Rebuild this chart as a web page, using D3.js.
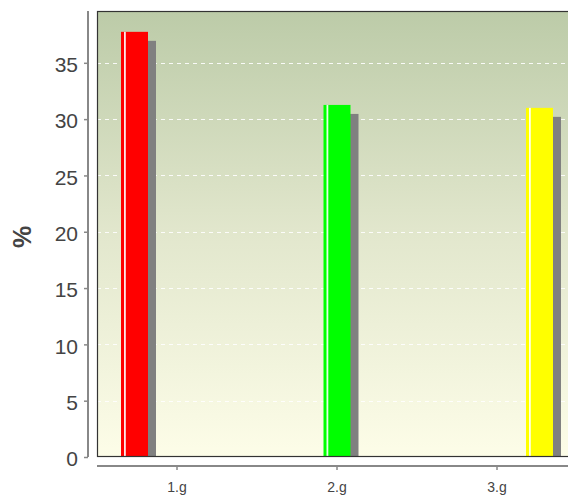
<!DOCTYPE html>
<html>
<head>
<meta charset="utf-8">
<script src="https://cdn.jsdelivr.net/npm/d3@7/dist/d3.min.js"></script>
<style>
  html, body { margin: 0; padding: 0; background: #ffffff; }
  svg { display: block; font-family: "Liberation Sans", Arial, sans-serif; }
</style>
</head>
<body>
<svg id="chart" width="568" height="499"></svg>
<script>
const categories = ["1.g", "2.g", "3.g"];
const values = [37.75, 31.26, 31.0];
const barColors = ["#ff0000", "#00ff00", "#ffff00"];
const yTicks = [0, 5, 10, 15, 20, 25, 30, 35];
const yTitle = "%";

const W = 568, H = 499;
const panel = { left: 97, top: 11, right: 577, bottom: 457 };

const svg = d3.select("#chart");

const defs = svg.append("defs");
const grad = defs.append("linearGradient")
  .attr("id", "bg").attr("x1", 0).attr("y1", 0).attr("x2", 0).attr("y2", 1);
grad.append("stop").attr("offset", "0%").attr("stop-color", "#bccba8");
grad.append("stop").attr("offset", "50%").attr("stop-color", "#e2e7cd");
grad.append("stop").attr("offset", "100%").attr("stop-color", "#fdfde8");

defs.append("clipPath").attr("id", "clip")
  .append("rect")
  .attr("x", panel.left).attr("y", panel.top)
  .attr("width", panel.right - panel.left).attr("height", panel.bottom - panel.top);

const y = d3.scaleLinear().domain([0, 39.6]).range([panel.bottom, panel.top]);
const xAxisScale = d3.scaleBand().domain(categories).range([panel.left, panel.right]).padding(0);
const xBar = d3.scalePoint().domain(categories).range([134.5, 539.5]);

const barW = 27, shadowDx = 8, shadowDy = 9;

svg.append("rect")
  .attr("x", panel.left).attr("y", panel.top)
  .attr("width", panel.right - panel.left).attr("height", panel.bottom - panel.top)
  .attr("fill", "url(#bg)");

svg.append("g")
  .selectAll("line")
  .data(yTicks.filter(d => d > 0))
  .join("line")
  .attr("x1", panel.left).attr("x2", panel.right)
  .attr("y1", d => Math.round(y(d)) + 0.5).attr("y2", d => Math.round(y(d)) + 0.5)
  .attr("stroke", "#ffffff").attr("stroke-width", 1)
  .attr("stroke-dasharray", "4,4").attr("opacity", 0.9);

const bars = svg.append("g").attr("clip-path", "url(#clip)");

bars.selectAll("rect.shadow")
  .data(categories)
  .join("rect")
  .attr("class", "shadow")
  .attr("x", d => xBar(d) - barW / 2 + shadowDx)
  .attr("y", (d, i) => y(values[i]) + shadowDy)
  .attr("width", barW)
  .attr("height", (d, i) => y(0) - y(values[i]))
  .attr("fill", "#808080");

bars.selectAll("rect.bar")
  .data(categories)
  .join("rect")
  .attr("class", "bar")
  .attr("x", d => xBar(d) - barW / 2)
  .attr("y", (d, i) => y(values[i]))
  .attr("width", barW)
  .attr("height", (d, i) => y(0) - y(values[i]))
  .attr("fill", (d, i) => barColors[i]);

bars.selectAll("rect.hl")
  .data(categories)
  .join("rect")
  .attr("class", "hl")
  .attr("x", d => xBar(d) - barW / 2 + 3)
  .attr("y", (d, i) => y(values[i]))
  .attr("width", 1.8)
  .attr("height", (d, i) => y(0) - y(values[i]))
  .attr("fill", "#ffffff").attr("opacity", 0.9);

svg.append("rect")
  .attr("x", panel.left + 0.5).attr("y", panel.top + 0.5)
  .attr("width", panel.right - panel.left - 1).attr("height", panel.bottom - panel.top - 1)
  .attr("fill", "none").attr("stroke", "#333333").attr("stroke-width", 1.2);

const yAxis = d3.axisLeft(y).tickValues(yTicks).tickSize(4).tickPadding(6).tickFormat(d3.format("d"));
const gy = svg.append("g").attr("transform", "translate(88,0)").call(yAxis);
gy.select(".domain").attr("stroke", "#888888").attr("stroke-width", 2)
  .attr("d", `M0,${panel.top}V${panel.bottom}`);
gy.selectAll(".tick line").attr("stroke", "#888888").attr("stroke-width", 1.5);
gy.selectAll(".tick text").attr("fill", "#444444").attr("dy", "0.42em")
  .style("font-size", "21px")
  .style("font-family", "Liberation Sans, Arial, sans-serif");

const xAxis = d3.axisBottom(xAxisScale).tickSize(4).tickPadding(12);
const gx = svg.append("g").attr("transform", "translate(0,466)").call(xAxis);
gx.select(".domain").attr("stroke", "#888888").attr("stroke-width", 2)
  .attr("d", `M${panel.left},0H${W}`);
gx.selectAll(".tick line").attr("stroke", "#888888").attr("stroke-width", 1.5);
gx.selectAll(".tick text").attr("fill", "#444444").style("font-size", "14px")
  .style("font-family", "Liberation Sans, Arial, sans-serif");

svg.append("text")
  .attr("transform", "translate(31,237) rotate(-90)")
  .attr("text-anchor", "middle")
  .attr("fill", "#444444")
  .style("font-size", "25px").style("font-weight", "bold")
  .text(yTitle);
</script>
</body>
</html>
